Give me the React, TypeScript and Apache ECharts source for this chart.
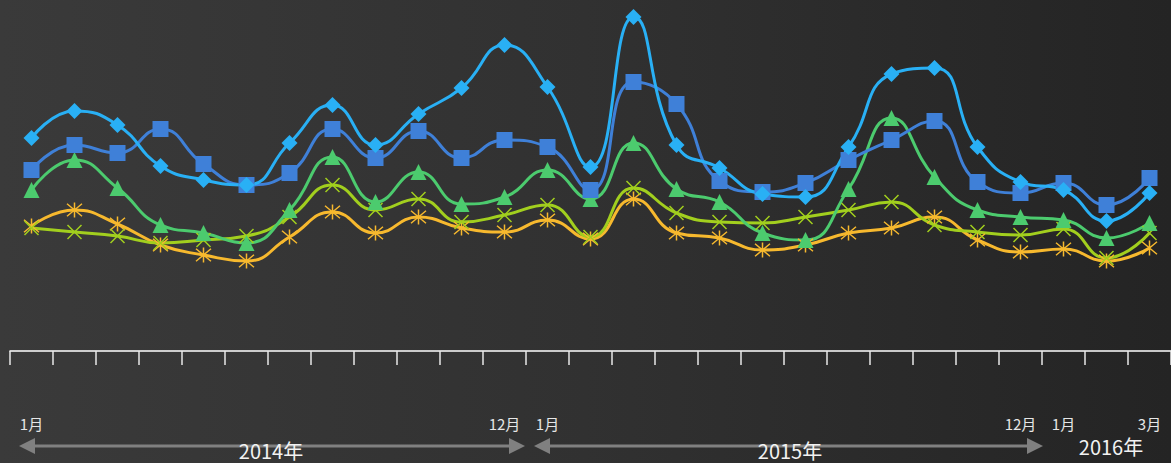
import React, { useEffect, useRef } from "react";
import * as echarts from "echarts";

const categories = [
  "2014年1月", "2014年2月", "2014年3月", "2014年4月", "2014年5月", "2014年6月",
  "2014年7月", "2014年8月", "2014年9月", "2014年10月", "2014年11月", "2014年12月",
  "2015年1月", "2015年2月", "2015年3月", "2015年4月", "2015年5月", "2015年6月",
  "2015年7月", "2015年8月", "2015年9月", "2015年10月", "2015年11月", "2015年12月",
  "2016年1月", "2016年2月", "2016年3月",
];

const seriesA = [63.9, 72.0, 67.8, 55.5, 51.3, 49.8, 62.4, 73.8, 61.8, 71.1, 78.9, 91.8, 79.2, 55.2, 100.2, 61.8, 54.9, 47.1, 46.2, 61.2, 83.1, 84.9, 61.2, 50.7, 48.3, 39.0, 47.4];
const seriesB = [54.3, 61.8, 59.4, 66.6, 56.1, 49.8, 53.4, 66.6, 57.9, 66.0, 57.9, 63.3, 61.2, 48.3, 80.7, 74.1, 51.0, 47.7, 50.4, 57.3, 63.3, 69.0, 50.7, 47.4, 50.4, 43.8, 51.9];
const seriesC = [48.3, 57.3, 48.9, 37.8, 35.4, 32.4, 42.3, 58.2, 44.7, 53.7, 44.1, 46.2, 54.3, 45.6, 62.4, 48.6, 44.7, 35.4, 33.3, 48.6, 69.9, 52.2, 42.3, 40.2, 39.3, 33.9, 38.4];
const seriesD = [36.9, 35.7, 34.5, 32.4, 33.3, 34.5, 40.2, 49.8, 42.3, 45.6, 38.7, 40.8, 43.8, 34.2, 48.9, 41.4, 38.7, 38.4, 40.2, 42.3, 44.7, 37.8, 35.7, 34.8, 36.6, 27.9, 35.4];
const seriesE = [37.5, 42.3, 38.1, 31.8, 28.8, 27.0, 34.2, 41.7, 35.4, 40.2, 36.9, 35.7, 39.3, 33.6, 45.6, 35.4, 33.9, 30.3, 31.8, 35.4, 36.9, 40.2, 33.3, 29.7, 30.6, 27.0, 30.9];

const shownMonthIdx = [0, 11, 12, 23, 24, 26];
const yearLabels = ["2014年", "2015年", "2016年"];

const X_SYMBOL = "path://M0,0L10,10M10,0L0,10";
const STAR_SYMBOL = "path://M0,0L10,10M10,0L0,10M5,-1L5,11";

export default function App() {
  const ref = useRef<HTMLDivElement>(null);
  useEffect(() => {
    document.body.style.margin = "0";
    const chart = echarts.init(ref.current!, undefined, { renderer: "svg" });
    const arrowColor = "#808080";
    const mkArrow = (x1: number, x2: number, y: number) => [
      { type: "line", shape: { x1: x1 + 10, y1: y, x2: x2 - 10, y2: y }, style: { stroke: arrowColor, lineWidth: 3 } },
      { type: "polygon", shape: { points: [[x1, y], [x1 + 16, y - 8], [x1 + 16, y + 8]] }, style: { fill: arrowColor } },
      { type: "polygon", shape: { points: [[x2, y], [x2 - 16, y - 8], [x2 - 16, y + 8]] }, style: { fill: arrowColor } },
    ];
    const yearText = (x: number, y: number, t: string) => ({
      type: "text",
      x, y,
      style: { text: t, fill: "#f2f2f2", font: '20px "Noto Sans CJK SC", "Noto Sans", sans-serif', textAlign: "center", textVerticalAlign: "middle" },
      z: 10,
    });
    const mkLine = (name: string, data: number[], color: string, symbol: string, size: number, stroke: boolean) => ({
      name,
      type: "line",
      data,
      smooth: 0.5,
      symbol,
      symbolSize: size,
      lineStyle: { color, width: 3 },
      itemStyle: stroke
        ? { color: "transparent", borderColor: color, borderWidth: 1.5 }
        : { color, borderWidth: 0 },
    });
    chart.setOption({
      animation: false,
      backgroundColor: {
        type: "linear", x: 0, y: 0, x2: 1, y2: 0,
        colorStops: [
          { offset: 0, color: "#3a3a3a" },
          { offset: 0.5, color: "#313131" },
          { offset: 1, color: "#242424" },
        ],
      },
      grid: { left: 10, right: 0, top: 1, bottom: 112, containLabel: false },
      xAxis: {
        type: "category",
        data: categories,
        boundaryGap: true,
        axisLine: { show: true, lineStyle: { color: "#ffffff", width: 1.5 } },
        axisTick: { show: true, length: 14, inside: false, alignWithLabel: false, interval: 0, lineStyle: { color: "#e8e8e8", width: 1.5 } },
        axisLabel: {
          interval: (i: number) => shownMonthIdx.includes(i),
          margin: 65,
          color: "#e6e6e6",
          fontSize: 15,
          fontFamily: '"Noto Sans CJK SC", "Noto Sans", sans-serif',
          formatter: (v: string) => v.split("年")[1],
        },
        splitLine: { show: false },
      },
      yAxis: { type: "value", min: 0, max: 105, show: false, splitLine: { show: false } },
      series: [
        mkLine("E", seriesE, "#F7B92E", STAR_SYMBOL, 15, true),
        mkLine("D", seriesD, "#A2CF1E", X_SYMBOL, 14, true),
        mkLine("C", seriesC, "#4CCB6E", "triangle", 16, false),
        mkLine("B", seriesB, "#3F80D8", "rect", 16, false),
        mkLine("A", seriesA, "#29B0F5", "diamond", 16, false),
      ],
      graphic: [
        ...mkArrow(19, 525, 446),
        ...mkArrow(534, 1043, 446),
        yearText(271, 450, yearLabels[0]),
        yearText(790, 450, yearLabels[1]),
        yearText(1111, 446, yearLabels[2]),
      ],
    });
    return () => chart.dispose();
  }, []);
  return <div ref={ref} style={{ position: "fixed", left: 0, top: 0, width: 1171, height: 463 }} />;
}
